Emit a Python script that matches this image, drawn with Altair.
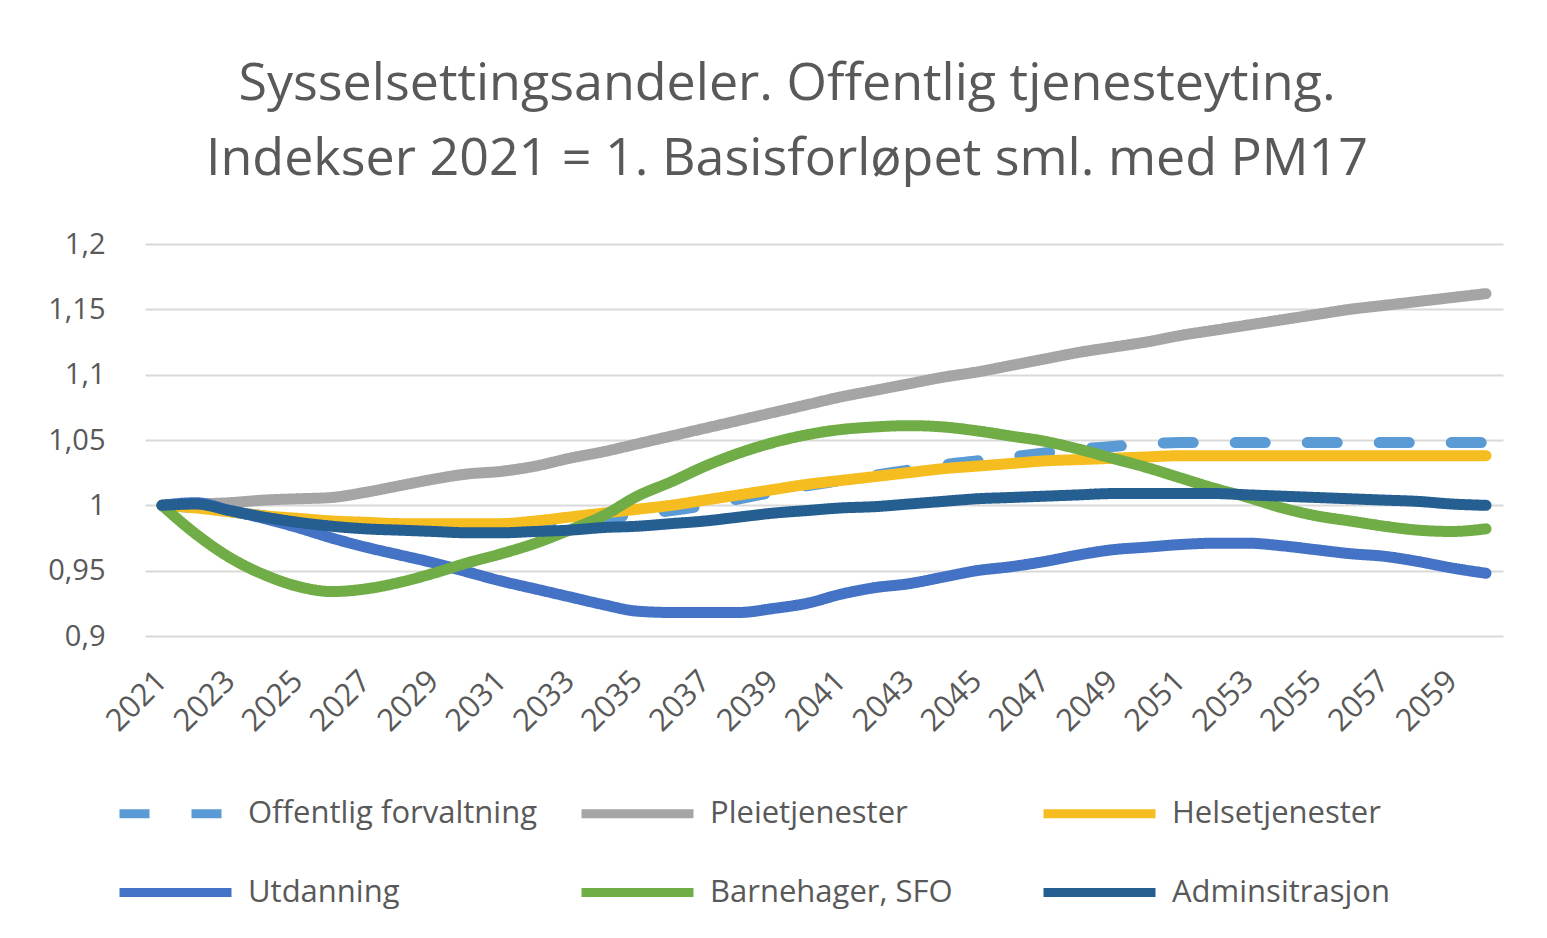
import altair as alt
import pandas as pd

years = list(range(2021, 2061))

offentlig_forvaltning = [1.000, 0.998, 0.995, 0.992, 0.989, 0.987, 0.986, 0.985, 0.984, 0.984,
                         0.984, 0.985, 0.987, 0.990, 0.993, 0.996, 1.000, 1.005, 1.010, 1.015,
                         1.019, 1.023, 1.027, 1.031, 1.034, 1.037, 1.040, 1.043, 1.045, 1.047,
                         1.048, 1.048, 1.048, 1.048, 1.048, 1.048, 1.048, 1.048, 1.048, 1.048]
pleietjenester = [1.000, 1.001, 1.002, 1.004, 1.005, 1.006, 1.010, 1.015, 1.020, 1.024,
                  1.026, 1.030, 1.036, 1.041, 1.047, 1.053, 1.059, 1.065, 1.071, 1.077,
                  1.083, 1.088, 1.093, 1.098, 1.102, 1.107, 1.112, 1.117, 1.121, 1.125,
                  1.130, 1.134, 1.138, 1.142, 1.146, 1.150, 1.153, 1.156, 1.159, 1.162]
helsetjenester = [1.000, 0.998, 0.995, 0.992, 0.990, 0.988, 0.987, 0.986, 0.986, 0.986,
                  0.986, 0.988, 0.991, 0.994, 0.997, 1.000, 1.004, 1.008, 1.012, 1.016,
                  1.019, 1.022, 1.025, 1.028, 1.030, 1.032, 1.034, 1.035, 1.036, 1.037,
                  1.038, 1.038, 1.038, 1.038, 1.038, 1.038, 1.038, 1.038, 1.038, 1.038]
utdanning = [1.000, 1.002, 0.996, 0.990, 0.983, 0.975, 0.968, 0.962, 0.956, 0.949,
             0.942, 0.936, 0.930, 0.924, 0.919, 0.918, 0.918, 0.918, 0.921, 0.925,
             0.932, 0.937, 0.940, 0.945, 0.950, 0.953, 0.957, 0.962, 0.966, 0.968,
             0.970, 0.971, 0.971, 0.969, 0.966, 0.963, 0.961, 0.957, 0.952, 0.948]
barnehager = [1.000, 0.978, 0.960, 0.947, 0.938, 0.934, 0.936, 0.941, 0.948, 0.956,
              0.963, 0.971, 0.981, 0.992, 1.007, 1.018, 1.030, 1.040, 1.048, 1.054,
              1.058, 1.060, 1.061, 1.060, 1.057, 1.053, 1.049, 1.043, 1.036, 1.029,
              1.021, 1.013, 1.006, 0.998, 0.992, 0.988, 0.984, 0.981, 0.980, 0.982]
administrasjon = [1.000, 1.001, 0.996, 0.991, 0.987, 0.984, 0.982, 0.981, 0.980, 0.979,
                  0.979, 0.980, 0.981, 0.983, 0.984, 0.986, 0.988, 0.991, 0.994, 0.996,
                  0.998, 0.999, 1.001, 1.003, 1.005, 1.006, 1.007, 1.008, 1.009, 1.009,
                  1.009, 1.009, 1.008, 1.007, 1.006, 1.005, 1.004, 1.003, 1.001, 1.000]

series_names = ["Offentlig forvaltning", "Pleietjenester", "Helsetjenester",
                "Utdanning", "Barnehager, SFO", "Adminsitrasjon"]
series_values = [offentlig_forvaltning, pleietjenester, helsetjenester,
                 utdanning, barnehager, administrasjon]
colors = ["#5B9BD5", "#A5A5A5", "#F5BD1F", "#4472C4", "#70AD47", "#255E91"]
dashes = [[30, 42], [1, 0], [1, 0], [1, 0], [1, 0], [1, 0]]

y_ticks = [0.9, 0.95, 1.0, 1.05, 1.1, 1.15, 1.2]
x_ticks = list(range(2021, 2061, 2))

rows = []
for name, vals in zip(series_names, series_values):
    for yr, v in zip(years, vals):
        rows.append({"year": yr, "serie": name, "value": v})
df = pd.DataFrame(rows)

FONT = "Open Sans, sans-serif"
TXT = "#595959"

legend = alt.Legend(
    orient="none", legendX=-30, legendY=509, direction="horizontal",
    columns=3, gridAlign="all", symbolType="stroke", symbolSize=12544,
    symbolStrokeWidth=9, labelFontSize=31, labelColor=TXT, labelFont=FONT,
    columnPadding=26, rowPadding=-4, labelOffset=12, labelLimit=1000,
)

color = alt.Color("serie:N", scale=alt.Scale(domain=series_names, range=colors),
                  legend=legend, title=None)
dash = alt.StrokeDash("serie:N", scale=alt.Scale(domain=series_names, range=dashes),
                      legend=legend, title=None)

x = alt.X("year:Q", title=None,
          scale=alt.Scale(domain=[2020.5, 2060.5], nice=False, zero=False),
          axis=alt.Axis(values=x_ticks, format="d", labelAngle=315, labelAlign="right",
                        labelBaseline="middle", labelFontSize=31, labelColor=TXT,
                        labelFont=FONT, labelPadding=40, grid=False, ticks=False,
                        domain=False, labelOverlap=False))
y = alt.Y("value:Q", title=None,
          scale=alt.Scale(domain=[0.9, 1.2], nice=False, zero=False),
          axis=alt.Axis(values=y_ticks, labelExpr="replace(format(datum.value, '.2~f'), '.', ',')",
                        labelFontSize=29, labelColor=TXT, labelFont=FONT, labelPadding=40,
                        ticks=False, domain=False, gridColor="#D9D9D9", gridWidth=2,
                        minExtent=127, maxExtent=127))

layers = []
for name in series_names:
    layers.append(
        alt.Chart(df).transform_filter(alt.datum.serie == name)
        .mark_line(strokeWidth=11, interpolate="monotone", strokeCap="round",
                   strokeJoin="round")
        .encode(x=x, y=y, color=color, strokeDash=dash)
    )

chart = alt.layer(*layers).properties(
    width=1358, height=392,
    background="white",
    padding={"left": 10, "top": 50, "right": 20, "bottom": 4},
    title=alt.TitleParams(
        text=["Sysselsettingsandeler.  Offentlig tjenesteyting.",
              "Indekser 2021 = 1. Basisforløpet sml. med PM17"],
        fontSize=52, font=FONT, color=TXT, fontWeight="normal",
        anchor="middle", frame="group", dx=-37, lineHeight=75, offset=44),
).configure_view(stroke="transparent", strokeWidth=0)

chart.save("out.html", embed_options={"renderer": "svg", "actions": False})
